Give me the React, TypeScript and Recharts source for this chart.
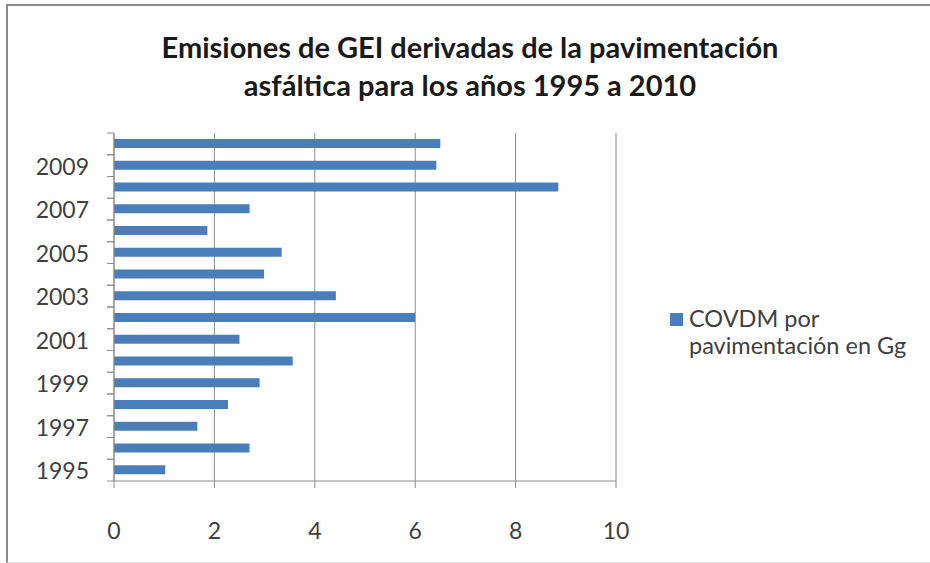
import React from 'react';
import { BarChart, Bar, XAxis, YAxis, CartesianGrid } from 'recharts';

const years = ['1995', '1996', '1997', '1998', '1999', '2000', '2001', '2002', '2003', '2004', '2005', '2006', '2007', '2008', '2009', '2010'];
const covdm = [1.02, 2.7, 1.66, 2.27, 2.9, 3.56, 2.5, 6.0, 4.42, 2.99, 3.34, 1.86, 2.7, 8.85, 6.42, 6.5];
const xTicks = [0, 2, 4, 6, 8, 10];

const SERIES_NAME = 'COVDM por pavimentación en Gg';
const FONT = 'Lato, "Open Sans", sans-serif';
const TEXT = '#404040';
const GRID = '#8c8c8c';
const BAR = '#4a7ebb';

const W = 930;
const H = 563;
const MARGIN = { top: 133, right: 314, bottom: 32, left: 14 };
const Y_AXIS_W = 100;
const X_AXIS_H = 50;
const AXIS_X = MARGIN.left + Y_AXIS_W;
const PLOT_H = H - MARGIN.top - MARGIN.bottom - X_AXIS_H;

const data = years.map((year, i) => ({ year, value: covdm[i] }));

const YTick = (props: any) => {
  const { y, payload } = props;
  const band = PLOT_H / years.length;
  const show = (Number(payload.value) - 1995) % 2 === 0;
  return (
    <g>
      <line x1={AXIS_X - 7} x2={AXIS_X} y1={y - band / 2} y2={y - band / 2} stroke={GRID} />
      <line x1={AXIS_X - 7} x2={AXIS_X} y1={y + band / 2} y2={y + band / 2} stroke={GRID} />
      {show && (
        <text x={AXIS_X - 25} y={y} textAnchor="end" dominantBaseline="central" fontSize={23} fill={TEXT} fontFamily={FONT}>
          {payload.value}
        </text>
      )}
    </g>
  );
};

const App: React.FC = () => {
  return (
    <div style={{ position: 'absolute', left: 0, top: 0, width: W, height: H, background: '#fff', overflow: 'hidden' }}>
      <div style={{ position: 'absolute', left: 6, top: 4, width: W, height: 556, borderLeft: '2px solid #8a8a8a', borderTop: '2px solid #8a8a8a', borderBottom: '1px solid #e0e0e0' }} />
      <div style={{ position: 'absolute', left: 0, top: 28, width: 940, textAlign: 'center', fontFamily: FONT, fontWeight: 700, fontSize: 29, lineHeight: '38px', color: '#1a1a1a' }}>
        Emisiones de GEI derivadas de la pavimentación<br />asfáltica para los años 1995 a 2010
      </div>
      <div style={{ position: 'absolute', left: 0, top: 0 }}>
        <BarChart width={W} height={H} data={data} layout="vertical" margin={MARGIN}>
          <CartesianGrid horizontal={false} stroke={GRID} />
          <XAxis
            type="number"
            domain={[0, 10]}
            ticks={xTicks}
            height={X_AXIS_H}
            tickSize={7}
            tickMargin={35}
            axisLine={{ stroke: GRID }}
            tickLine={{ stroke: GRID }}
            tick={{ fontSize: 23, fill: TEXT, fontFamily: FONT }}
          />
          <YAxis
            type="category"
            dataKey="year"
            reversed
            width={Y_AXIS_W}
            interval={0}
            tickLine={false}
            axisLine={{ stroke: GRID }}
            tick={<YTick />}
          />
          <Bar dataKey="value" name={SERIES_NAME} fill={BAR} barSize={9} isAnimationActive={false} />
        </BarChart>
      </div>
      <div style={{ position: 'absolute', left: 670, top: 305, display: 'flex', alignItems: 'flex-start', fontFamily: FONT, fontSize: 23.5, color: TEXT, lineHeight: '27px' }}>
        <span style={{ width: 13, height: 13, background: BAR, marginTop: 8, marginRight: 6, flex: 'none' }} />
        <span>COVDM por<br />pavimentación en Gg</span>
      </div>
    </div>
  );
};

export default App;
